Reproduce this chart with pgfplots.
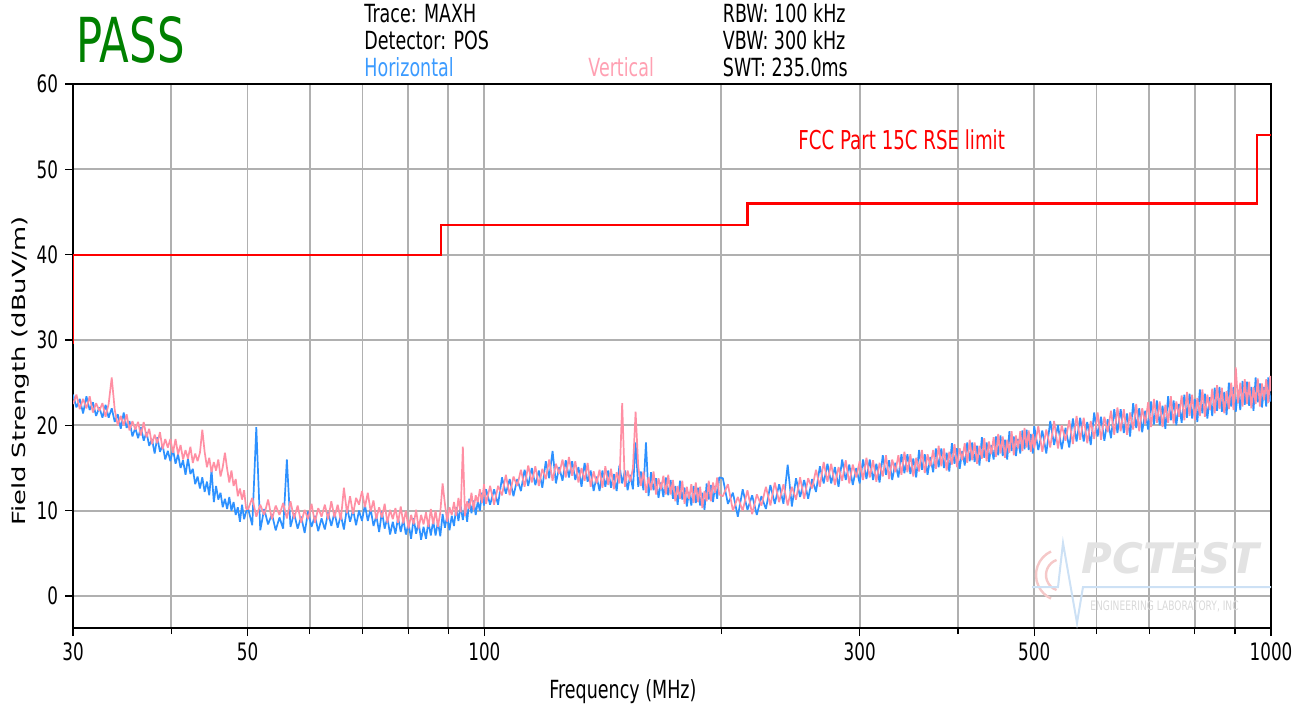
\documentclass[border=0pt]{standalone}
\usepackage{fontspec}
\setmainfont{DejaVu Sans}[FakeStretch=0.7]
\newfontfamily\plainsans{DejaVu Sans}
\usepackage{graphicx}
\usepackage{pgfplots}
\usepackage{pgfplotstable}
\pgfplotsset{compat=1.18}

\definecolor{hblue}{RGB}{45,145,255}
\definecolor{vpink}{RGB}{255,143,163}
\definecolor{htext}{RGB}{60,155,255}
\definecolor{vtext}{RGB}{255,160,178}
\definecolor{passgreen}{RGB}{0,128,0}
\definecolor{gridgray}{RGB}{176,176,176}
\definecolor{logoblue}{RGB}{205,225,245}
\definecolor{logored}{RGB}{245,200,200}

% f = frequency (MHz), h = horizontal, v = vertical (dBuV/m)
\pgfplotstableread{
f h v
30.0 23.6 22.5
30.3 22.1 23.6
30.6 23.1 21.9
30.9 21.4 23.1
31.2 23.4 22.0
31.5 21.8 23.4
31.8 22.7 21.5
32.1 21.1 22.6
32.4 22.1 21.7
32.7 20.9 22.6
33.0 22.4 21.0
33.3 20.9 22.5
33.6 22.0 25.6
33.9 20.4 21.8
34.2 21.3 20.0
34.5 19.6 21.1
34.8 21.5 20.0
35.1 19.7 21.3
35.4 20.5 19.4
35.7 18.7 20.5
36.0 19.7 19.5
36.3 18.5 20.4
36.6 19.8 18.8
36.9 18.2 20.4
37.2 19.2 18.6
37.5 17.6 19.6
37.8 18.4 17.8
38.1 16.7 18.9
38.4 18.6 17.9
38.7 16.9 19.2
39.0 17.7 17.2
39.3 16.0 18.4
39.6 17.0 17.4
39.9 15.8 18.4
40.2 17.2 16.8
40.5 15.5 18.4
40.8 16.6 16.6
41.1 15.0 17.7
41.4 15.9 16.0
41.7 14.2 17.1
42.0 16.1 16.1
42.3 14.3 17.5
42.6 14.9 15.6
42.9 13.1 16.7
43.2 14.0 15.8
43.5 12.6 16.8
43.8 13.9 19.5
44.1 12.2 16.9
44.4 13.4 15.1
44.7 11.8 16.2
45.0 14.8 14.5
45.3 11.0 15.7
45.6 12.9 14.7
45.9 11.3 16.0
46.2 12.1 14.0
46.5 10.4 15.1
46.8 11.4 16.8
47.1 10.2 14.9
47.4 11.6 13.3
47.7 10.0 14.7
48.0 11.0 12.9
48.3 9.5 13.7
48.6 10.4 11.7
48.9 8.7 12.6
49.2 10.7 11.3
49.5 9.0 12.4
49.8 9.9 10.2
50.1 10.2 10.2
50.7 8.3 11.5
51.3 19.8 9.3
51.9 7.7 10.7
52.5 10.2 9.5
53.1 8.4 11.3
53.7 9.6 9.0
54.3 7.7 10.6
54.9 9.2 9.5
55.5 7.9 10.9
56.1 16.0 9.1
56.7 8.1 11.1
57.3 9.7 9.1
57.9 7.9 10.6
58.5 9.3 8.6
59.1 7.4 10.1
59.7 9.9 9.0
60.3 8.1 10.8
60.9 9.4 8.6
61.5 7.6 10.3
62.1 9.1 9.3
62.7 7.8 10.7
63.3 9.8 9.0
63.9 8.2 11.1
64.5 9.8 9.2
65.1 8.0 10.7
65.7 9.5 8.9
66.3 7.8 12.7
66.9 10.4 9.7
67.5 8.7 11.7
68.1 10.1 9.6
68.7 8.3 11.5
69.3 10.0 10.7
69.9 8.8 12.3
70.5 10.7 10.4
71.1 8.8 12.1
71.7 10.2 9.9
72.3 8.2 11.2
72.9 9.4 9.0
73.5 7.5 10.4
74.1 9.9 9.2
74.7 7.9 10.8
75.3 9.2 8.6
75.9 7.2 10.1
76.5 8.7 9.0
77.1 7.3 10.3
77.7 9.2 8.6
78.3 7.5 10.5
78.9 9.0 8.5
79.5 7.2 10.0
80.1 8.5 7.9
80.7 6.7 9.5
81.3 9.1 8.4
81.9 7.3 10.1
82.5 8.6 7.9
83.1 6.6 9.5
83.7 8.1 8.4
84.3 6.7 9.8
84.9 8.7 8.1
85.5 7.1 10.2
86.1 8.8 8.4
86.7 7.1 10.0
87.3 8.7 8.1
87.9 7.0 9.8
88.5 9.6 13.2
89.1 8.0 10.8
89.7 9.4 8.7
90.3 7.7 10.4
90.9 9.4 9.5
91.5 8.2 11.0
92.1 10.4 9.4
92.7 8.8 11.5
93.3 10.6 9.8
93.9 8.9 17.5
94.5 10.4 9.4
95.1 8.7 11.1
95.7 11.4 10.2
96.3 9.7 12.1
96.9 11.2 10.1
97.5 9.5 11.8
98.1 11.1 11.0
98.7 10.0 12.5
99.3 12.1 10.9
99.9 10.6 13.1
100.5 12.5 10.8
101.7 10.7 12.9
102.9 12.5 10.7
104.1 10.7 12.9
105.3 13.9 11.8
106.5 12.0 14.2
107.7 13.7 11.8
108.9 11.7 14.0
110.1 13.7 12.9
111.3 12.3 14.8
112.5 14.8 12.8
113.7 12.9 15.3
114.9 15.0 13.3
116.1 13.0 15.2
117.3 14.7 12.9
118.5 12.7 14.9
119.7 15.8 13.7
120.9 13.8 16.0
122.1 17.0 13.5
123.3 13.2 15.5
124.5 15.1 14.3
125.7 13.5 16.0
126.9 15.9 13.9
128.1 13.9 16.3
129.3 15.8 14.1
130.5 13.6 15.8
131.7 15.1 13.3
132.9 12.8 15.0
134.1 15.6 13.5
135.3 13.4 15.6
136.5 14.7 12.8
137.7 12.3 14.6
138.9 14.0 13.2
140.1 12.3 14.8
141.3 14.7 12.7
142.5 12.8 15.2
143.7 14.7 13.0
144.9 12.7 14.9
146.1 14.3 12.5
147.3 12.3 14.5
148.5 15.3 13.2
149.7 13.2 22.6
150.9 14.7 12.8
152.1 12.4 14.7
153.3 14.2 13.4
154.5 12.5 15.0
155.7 18.0 21.6
156.9 12.8 15.2
158.1 14.6 12.9
159.3 12.4 14.6
160.5 18.0 12.1
161.7 11.7 13.9
162.9 14.5 12.4
164.1 12.4 14.6
165.3 13.8 11.9
166.5 11.5 13.8
167.7 13.3 12.5
168.9 11.6 14.1
170.1 13.9 11.9
171.3 11.8 14.2
172.5 13.6 11.9
173.7 11.4 13.6
174.9 12.9 11.1
176.1 10.7 12.9
177.3 13.5 11.4
178.5 11.3 13.5
179.7 12.7 10.8
180.9 10.5 12.8
182.1 12.2 11.4
183.3 10.6 13.1
184.5 12.9 10.9
185.7 10.9 13.3
186.9 12.7 11.0
188.1 10.6 12.8
189.3 12.1 10.3
190.5 10.1 12.3
191.7 13.2 11.1
192.9 11.3 13.5
194.1 13.0 11.1
195.3 11.0 13.3
196.5 12.9 12.1
197.7 11.4 13.9
198.9 13.9 11.9
201 13.8 11.7
204 10.8 13.1
207 12.1 10.0
210 9.3 11.6
213 12.5 10.0
216 10.1 12.4
219 11.8 9.6
222 9.5 11.9
225 11.7 10.6
228 10.2 12.8
231 13.0 10.6
234 10.8 13.3
237 13.1 11.0
240 10.8 13.1
243 15.4 10.6
246 10.5 12.8
249 13.8 11.3
252 11.6 13.9
255 13.6 11.4
258 11.4 13.8
261 13.7 12.6
264 12.2 14.8
267 15.2 12.8
270 13.2 15.7
273 15.5 13.4
276 13.2 15.5
279 15.1 13.0
282 12.8 15.1
285 16.0 13.5
288 13.6 15.9
291 15.4 13.2
294 13.0 15.4
297 15.0 13.9
300 13.2 15.8
303 16.0 13.6
306 13.7 16.2
309 16.0 13.9
312 13.6 15.9
315 15.5 13.4
318 13.3 15.6
321 16.5 14.0
324 14.2 16.5
327 15.9 13.7
330 13.6 16.0
333 15.6 14.5
336 13.9 16.5
339 16.6 14.2
342 14.4 16.9
345 16.6 14.5
348 14.3 16.6
351 16.1 14.0
354 13.9 16.2
357 17.1 14.6
360 14.8 17.1
363 16.6 14.4
366 14.2 16.6
369 16.3 15.2
372 14.5 17.1
375 17.3 14.9
378 15.1 17.6
381 17.3 15.2
384 15.0 17.3
387 16.8 14.7
390 14.6 16.9
393 17.9 15.4
396 15.5 17.8
399 17.3 15.1
402 14.9 17.3
405 17.0 15.9
408 15.3 17.9
411 18.0 15.6
414 15.8 18.3
417 18.0 15.9
420 15.7 18.0
423 17.6 15.5
426 15.3 17.6
429 18.6 16.1
432 16.2 18.5
435 18.0 15.8
438 15.7 18.1
441 17.7 16.6
444 16.0 18.6
447 18.7 16.3
450 16.5 19.0
453 18.8 16.7
456 16.4 18.7
459 18.3 16.2
462 16.0 18.3
465 19.3 16.8
468 17.0 19.3
471 18.7 16.5
474 16.4 18.8
477 18.4 17.3
480 16.7 19.3
483 19.4 17.0
486 17.2 19.7
489 19.5 17.4
492 17.1 19.4
495 19.0 16.9
498 16.7 19.0
500 19.9 17.3
506 17.1 19.9
512 19.4 16.9
518 16.7 19.5
524 20.5 17.4
530 17.7 20.5
536 20.0 17.3
542 17.2 20.0
548 19.7 18.2
554 17.4 20.6
560 20.8 17.8
566 18.1 21.1
572 20.9 18.3
578 18.1 20.9
584 20.4 17.9
590 17.7 20.5
596 21.5 18.4
602 18.7 21.5
608 21.0 18.3
614 18.2 21.0
620 20.7 19.2
626 18.5 21.7
632 21.9 18.9
638 19.1 22.1
644 21.9 19.3
650 19.1 21.9
656 21.4 18.9
662 18.7 21.5
668 22.6 19.5
674 19.7 22.5
680 22.0 19.3
686 19.2 22.0
692 21.7 20.2
698 19.5 22.7
704 22.8 19.8
710 20.1 23.1
716 22.9 20.3
722 20.0 22.8
728 22.3 19.8
734 19.6 22.4
740 23.4 20.3
746 20.6 23.4
752 22.9 20.2
758 20.0 22.8
764 22.5 21.0
770 20.3 23.5
776 23.6 20.6
782 20.9 23.9
788 23.7 21.1
794 20.8 23.6
800 23.1 20.6
806 20.4 23.2
812 24.2 21.1
818 21.4 24.2
824 23.7 21.0
830 20.8 23.6
836 23.3 21.8
842 21.1 24.3
848 24.4 21.4
854 21.7 24.7
860 24.5 21.9
866 21.6 24.4
872 23.9 21.4
878 21.2 24.0
884 25.0 21.9
890 22.2 25.0
896 24.5 21.8
902 21.6 26.8
908 24.1 22.6
914 21.8 25.0
920 25.2 22.2
926 22.4 25.4
932 25.1 22.5
938 22.3 25.1
944 24.5 22.0
950 21.7 24.5
956 25.6 22.5
962 22.7 25.5
968 24.9 22.2
974 22.1 24.9
980 24.5 23.0
986 22.2 25.4
992 25.6 22.6
998 22.8 25.8
1000 23.5 24.0
}\spectrum

\begin{document}
\begin{tikzpicture}
\useasboundingbox (-36.5pt,-43pt) rectangle (617pt,314pt);
\begin{axis}[
    at={(0pt,0pt)}, anchor=south west,
    width=599pt, height=272pt, scale only axis,
    xmode=log, xmin=30, xmax=1000, ymin=-3.75, ymax=60,
    xtick={30,50,100,300,500,1000},
    xticklabels={30,50,100,300,500,1000},
    minor xtick={40,60,70,80,90,200,400,600,700,800,900},
    ytick={0,10,20,30,40,50,60},
    grid=both,
    major grid style={draw=gridgray, line width=0.9pt},
    minor grid style={draw=gridgray, line width=0.9pt},
    tick pos=left, tick align=outside,
    major tick length=4pt, minor tick length=3pt,
    tick style={black, line width=0.6pt},
    axis line style={black, line width=1pt},
    /pgf/number format/assume math mode=true,
    tick label style={font=\fontsize{12}{14}\selectfont},
    xlabel={Frequency (MHz)},
    xlabel style={font=\fontsize{12.5}{15}\selectfont, at={(axis description cs:0.459,-0.1176)}, anchor=center},
    ylabel={\scalebox{1}[0.7]{\plainsans Field Strength (dBuV/m)}},
    ylabel style={font=\fontsize{12.9}{15}\selectfont, at={(axis description cs:-0.0442,0.4724)}, anchor=center},
]
\addplot[hblue, line width=0.85pt, line join=bevel] table[x=f, y=h] {\spectrum};
\addplot[vpink, line width=0.85pt, line join=bevel] table[x=f, y=v] {\spectrum};
\addplot[red, line width=1.1pt] coordinates {(30,29.5) (30,40) (88,40) (88,43.5) (216,43.5) (216,46) (960,46) (960,54) (1000,54)};
\end{axis}

% header
\node[anchor=base west, inner sep=0pt, text=passgreen, font=\fontsize{31}{36}\selectfont] at (1.5pt,282.75pt) {PASS};
\node[anchor=base west, inner sep=0pt, font=\fontsize{12.5}{15}\selectfont] at (145.5pt,302.75pt) {Trace: MAXH};
\node[anchor=base west, inner sep=0pt, font=\fontsize{12.5}{15}\selectfont] at (145.5pt,289.25pt) {Detector: POS};
\node[anchor=base west, inner sep=0pt, text=htext, font=\fontsize{12.5}{15}\selectfont] at (145.5pt,276pt) {Horizontal};
\node[anchor=base west, inner sep=0pt, text=vtext, font=\fontsize{12.5}{15}\selectfont] at (257.5pt,276pt) {Vertical};
\node[anchor=base west, inner sep=0pt, font=\fontsize{12.5}{15}\selectfont] at (324.75pt,302.75pt) {RBW: 100 kHz};
\node[anchor=base west, inner sep=0pt, font=\fontsize{12.5}{15}\selectfont] at (324.75pt,289.25pt) {VBW: 300 kHz};
\node[anchor=base west, inner sep=0pt, font=\fontsize{12.5}{15}\selectfont] at (324.75pt,276pt) {SWT: 235.0ms};
\node[anchor=base west, inner sep=0pt, text=red, font=\fontsize{13}{15}\selectfont] at (362.5pt,239.5pt) {FCC Part 15C RSE limit};

% watermark
\draw[logored, line width=1.2pt] (494.5pt,26.5pt) ++(110:8pt) arc (110:250:8pt);
\draw[logored, line width=1.2pt] (494.5pt,26.5pt) ++(115:13pt) arc (115:245:13pt);
\draw[logoblue, line width=1pt] (479.5pt,20.5pt) -- (492.5pt,20.5pt) -- (495pt,42.5pt) -- (502pt,2.5pt) -- (505pt,20.5pt) -- (599pt,20.5pt);
\node[anchor=base west, inner sep=0pt, text=gray!22, font=\plainsans\bfseries\itshape\fontsize{21}{24}\selectfont] at (504pt,27.5pt) {PCTEST};
\node[anchor=base west, inner sep=0pt, text=gray!30, font=\fontsize{6.5}{8}\selectfont] at (508.5pt,9pt) {ENGINEERING LABORATORY, INC};
\end{tikzpicture}
\end{document}
